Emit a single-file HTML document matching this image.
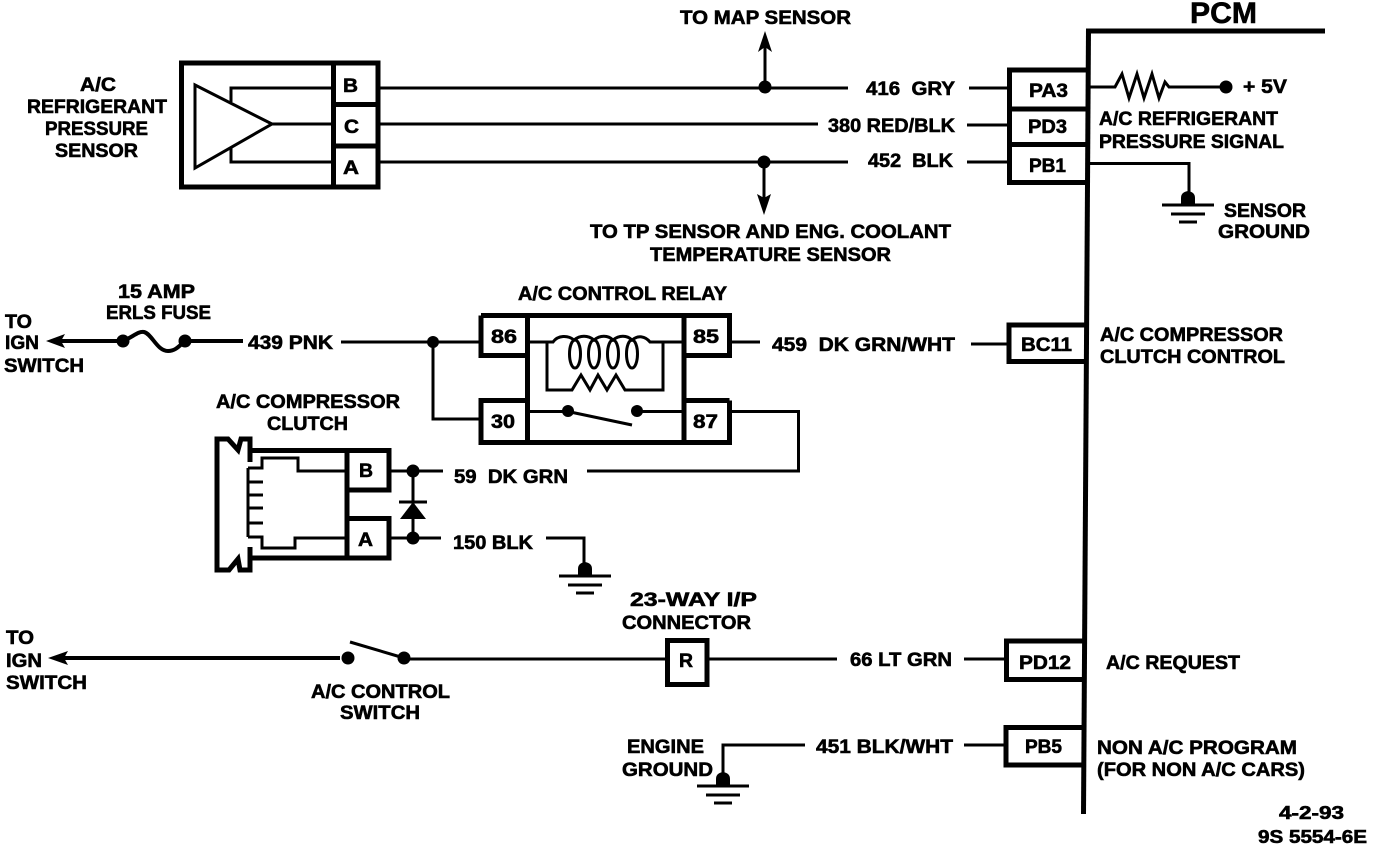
<!DOCTYPE html>
<html><head><meta charset="utf-8"><style>
html,body{margin:0;padding:0;background:#fff;width:1392px;height:846px;overflow:hidden}
svg{display:block}
text{font-family:"Liberation Sans",sans-serif;font-weight:bold;font-size:19.5px;fill:#000;stroke:#000;stroke-width:.6;white-space:pre}
.l{fill:none;stroke:#000;stroke-width:3}
.m{fill:none;stroke:#000;stroke-width:4}
.b{fill:none;stroke:#000;stroke-width:5}
</style></head><body>
<svg width="1392" height="846" viewBox="0 0 1392 846" xmlns="http://www.w3.org/2000/svg">
<defs><g id="gnd"><path d="M-26 0H26" stroke="#000" stroke-width="3"/><path d="M-17 9H17" stroke="#000" stroke-width="3"/><path d="M-9 17H9" stroke="#000" stroke-width="3"/><path d="M-7 0V-7Q-7 -13 0 -14Q7 -13 7 -7V0Z" fill="#000"/></g></defs>

<!-- PCM -->
<path class="b" d="M1325 31H1086"/><path class="b" d="M1088.500 28.500L1083.500 814"/>
<path class="b" d="M1088 70H1009.500V182.500H1087"/><path class="b" d="M1009 109H1087M1009 144.500H1087"/>
<path class="b" d="M1086 325H1009V361.500H1086"/>
<path class="b" d="M1084 641H1006.500V679.500H1084"/>
<path class="b" d="M1084 727.500H1006V765H1084"/>

<!-- Sensor -->
<rect class="b" x="181.500" y="63" width="196.500" height="124"/>
<path class="b" d="M333.500 63V187M333.500 104.500H378M333.500 146H378"/>
<path class="l" d="M195 85V168L272 124Z"/>
<path class="l" d="M231 102V88H333M272 124H333M231 148V162H333"/>
<!-- Top wires -->
<path class="l" d="M377 88H848M377 124H818M377 162H848"/>
<path class="l" d="M765 88V38M764 162V202"/>
<circle cx="765" cy="87" r="6.500"/><circle cx="764" cy="162" r="6.500"/>
<path d="M765 31L772 52L765 47L758 52Z"/><path d="M764 215L757 194L764 198L771 194Z"/>
<path class="l" d="M969 88H1011M967 125H1011M967 162H1011"/>
<!-- Resistor PA3 -->
<path class="l" d="M1089 87H1115L1122 74L1129 98L1137 74L1144 98L1152 74L1159 98L1165 82L1169 87H1222"/>
<circle cx="1226" cy="87" r="6.500"/>
<path class="l" d="M1089 163.500H1189V192"/>
<use href="#gnd" x="1188" y="205"/>

<!-- Fuse line -->
<path class="m" d="M60 341H122M186 341H243"/>
<path d="M46 341L65 334L61 341L65 348Z"/>
<circle cx="123" cy="341" r="6.500"/><circle cx="185" cy="341" r="6.500"/>
<path class="m" d="M123 341C133 337 138 331 144 332C152 334 157 351 168 351C176 351 180 345 185 341"/>
<path class="l" d="M341 342H482M433 342V419H482"/>
<circle cx="433" cy="342" r="6"/>

<!-- Relay -->
<path class="b" d="M481 315.500H729.500V355.500H684M729.500 400.500V442.500H481V400.500H527M481 315.500V355.500H527M684 400.500H729.500"/>
<path class="b" d="M527.500 316V442M684 316V442"/>
<path class="l" d="M527 342H553C558 335 568 335 574 340C580 335 588 335 594 340C600 335 608 335 613 340C619 335 627 335 632 340C638 335 645 336 650 342H684"/>
<path class="l" d="M547 342V390H572L581 375L590 390L598 375L607 390L616 375L625 390L635 390H663V342"/>
<ellipse class="l" cx="575" cy="354" rx="5.500" ry="14"/><ellipse class="l" cx="594" cy="354" rx="5.500" ry="14"/><ellipse class="l" cx="613" cy="354" rx="5.500" ry="14"/><ellipse class="l" cx="632" cy="354" rx="5.500" ry="14"/>
<path class="l" d="M527 411.500H568M638 411.500H684"/>
<path class="l" d="M568 411.500L632 425"/>
<circle cx="568" cy="411" r="6"/><circle cx="637" cy="411" r="6"/>
<path class="l" d="M729 342H760M729 411.500H798.500V471H587"/>
<path class="l" d="M971 344H1011"/>

<!-- Clutch -->
<path class="b" d="M250 462V439H241L238 450L228 439H217V570H229L238 559L240 570H250V547"/>
<path class="b" d="M250 450.500H389V490H347M250 558H389V518.500H347M347 450V560"/>
<path class="l" d="M248 468H262V458H298V471H347M248 537H262V548H295V538H347"/>
<path class="l" d="M248 468V537M248 482H263M248 495H263M248 508H263M248 523H263"/>
<!-- Clutch wires -->
<path class="l" d="M389 471H443M389 538H441M413 471V538"/>
<circle cx="413" cy="471" r="6.500"/><circle cx="413" cy="538" r="6.500"/>
<path d="M413 502L426 519H400Z"/><path class="l" d="M399 502H427"/>
<path class="l" d="M546 538H584V566"/>
<use href="#gnd" x="585" y="576"/>

<!-- Bottom -->
<path class="m" d="M62 658H340"/><path d="M48 658L68 651L64 658L68 665Z"/>
<circle cx="348" cy="658" r="6.500"/><circle cx="404" cy="658" r="6.500"/>
<path class="l" d="M350 642L404 658"/>
<path class="l" d="M404 659H667"/>
<rect class="b" x="667.500" y="640.500" width="39.500" height="44"/>
<path class="l" d="M708 659H837M964 659H1006M964 745H1006M805 745H723V775"/>
<use href="#gnd" x="723" y="786"/>

<!-- Labels -->
<text lengthAdjust="spacingAndGlyphs" x="680" y="24" textLength="171">TO MAP SENSOR</text>
<text lengthAdjust="spacingAndGlyphs" x="1190" y="23" textLength="67" style="font-size:30px">PCM</text>
<text lengthAdjust="spacingAndGlyphs" x="80" y="91" textLength="36">A/C</text>
<text lengthAdjust="spacingAndGlyphs" x="27" y="113" textLength="140">REFRIGERANT</text>
<text lengthAdjust="spacingAndGlyphs" x="45" y="135" textLength="103">PRESSURE</text>
<text lengthAdjust="spacingAndGlyphs" x="55" y="157" textLength="83">SENSOR</text>
<text lengthAdjust="spacingAndGlyphs" x="343" y="92" textLength="15">B</text>
<text lengthAdjust="spacingAndGlyphs" x="344" y="133" textLength="15">C</text>
<text lengthAdjust="spacingAndGlyphs" x="343" y="174" textLength="16">A</text>
<text lengthAdjust="spacingAndGlyphs" x="866" y="95" textLength="89">416  GRY</text>
<text lengthAdjust="spacingAndGlyphs" x="828" y="132" textLength="127">380 RED/BLK</text>
<text lengthAdjust="spacingAndGlyphs" x="868" y="167" textLength="85">452  BLK</text>
<text lengthAdjust="spacingAndGlyphs" x="1029" y="97" textLength="39">PA3</text>
<text lengthAdjust="spacingAndGlyphs" x="1028" y="133" textLength="39">PD3</text>
<text lengthAdjust="spacingAndGlyphs" x="1029" y="172" textLength="37">PB1</text>
<text lengthAdjust="spacingAndGlyphs" x="1243" y="93" textLength="44">+ 5V</text>
<text lengthAdjust="spacingAndGlyphs" x="1099" y="125" textLength="179">A/C REFRIGERANT</text>
<text lengthAdjust="spacingAndGlyphs" x="1099" y="148" textLength="185">PRESSURE SIGNAL</text>
<text lengthAdjust="spacingAndGlyphs" x="1224" y="217" textLength="82">SENSOR</text>
<text lengthAdjust="spacingAndGlyphs" x="1218" y="238" textLength="92">GROUND</text>
<text lengthAdjust="spacingAndGlyphs" x="590" y="238" textLength="361">TO TP SENSOR AND ENG. COOLANT</text>
<text lengthAdjust="spacingAndGlyphs" x="650" y="261" textLength="241">TEMPERATURE SENSOR</text>
<text lengthAdjust="spacingAndGlyphs" x="118" y="298" textLength="77">15 AMP</text>
<text lengthAdjust="spacingAndGlyphs" x="106" y="319" textLength="105">ERLS FUSE</text>
<text lengthAdjust="spacingAndGlyphs" x="518" y="300" textLength="209">A/C CONTROL RELAY</text>
<text lengthAdjust="spacingAndGlyphs" x="5" y="328" textLength="27">TO</text>
<text lengthAdjust="spacingAndGlyphs" x="5" y="349" textLength="34">IGN</text>
<text lengthAdjust="spacingAndGlyphs" x="4" y="372" textLength="80">SWITCH</text>
<text lengthAdjust="spacingAndGlyphs" x="248" y="349" textLength="85">439 PNK</text>
<text lengthAdjust="spacingAndGlyphs" x="491" y="343" textLength="26">86</text>
<text lengthAdjust="spacingAndGlyphs" x="693" y="343" textLength="26">85</text>
<text lengthAdjust="spacingAndGlyphs" x="491" y="428" textLength="24">30</text>
<text lengthAdjust="spacingAndGlyphs" x="693" y="428" textLength="25">87</text>
<text lengthAdjust="spacingAndGlyphs" x="772" y="351" textLength="183">459  DK GRN/WHT</text>
<text lengthAdjust="spacingAndGlyphs" x="1021" y="351" textLength="51">BC11</text>
<text lengthAdjust="spacingAndGlyphs" x="1100" y="341" textLength="183">A/C COMPRESSOR</text>
<text lengthAdjust="spacingAndGlyphs" x="1100" y="363" textLength="185">CLUTCH CONTROL</text>
<text lengthAdjust="spacingAndGlyphs" x="216" y="408" textLength="184">A/C COMPRESSOR</text>
<text lengthAdjust="spacingAndGlyphs" x="267" y="430" textLength="81">CLUTCH</text>
<text lengthAdjust="spacingAndGlyphs" x="359" y="477" textLength="14">B</text>
<text lengthAdjust="spacingAndGlyphs" x="358" y="546" textLength="15">A</text>
<text lengthAdjust="spacingAndGlyphs" x="454" y="483" textLength="114">59  DK GRN</text>
<text lengthAdjust="spacingAndGlyphs" x="453" y="549" textLength="80">150 BLK</text>
<text lengthAdjust="spacingAndGlyphs" x="630" y="606" textLength="127">23-WAY I/P</text>
<text lengthAdjust="spacingAndGlyphs" x="622" y="629" textLength="129">CONNECTOR</text>
<text lengthAdjust="spacingAndGlyphs" x="679" y="667" textLength="14">R</text>
<text lengthAdjust="spacingAndGlyphs" x="850" y="666" textLength="102">66 LT GRN</text>
<text lengthAdjust="spacingAndGlyphs" x="1019" y="669" textLength="52">PD12</text>
<text lengthAdjust="spacingAndGlyphs" x="1106" y="669" textLength="134">A/C REQUEST</text>
<text lengthAdjust="spacingAndGlyphs" x="6" y="644" textLength="28">TO</text>
<text lengthAdjust="spacingAndGlyphs" x="6" y="667" textLength="36">IGN</text>
<text lengthAdjust="spacingAndGlyphs" x="6" y="689" textLength="81">SWITCH</text>
<text lengthAdjust="spacingAndGlyphs" x="311" y="698" textLength="139">A/C CONTROL</text>
<text lengthAdjust="spacingAndGlyphs" x="340" y="719" textLength="80">SWITCH</text>
<text lengthAdjust="spacingAndGlyphs" x="627" y="753" textLength="77">ENGINE</text>
<text lengthAdjust="spacingAndGlyphs" x="622" y="776" textLength="91">GROUND</text>
<text lengthAdjust="spacingAndGlyphs" x="816" y="753" textLength="137">451 BLK/WHT</text>
<text lengthAdjust="spacingAndGlyphs" x="1025" y="753" textLength="37">PB5</text>
<text lengthAdjust="spacingAndGlyphs" x="1097" y="754" textLength="200">NON A/C PROGRAM</text>
<text lengthAdjust="spacingAndGlyphs" x="1097" y="776" textLength="208">(FOR NON A/C CARS)</text>
<text lengthAdjust="spacingAndGlyphs" x="1279" y="819" textLength="65" style="font-size:18px">4-2-93</text>
<text lengthAdjust="spacingAndGlyphs" x="1258" y="843" textLength="109" style="font-size:18px">9S 5554-6E</text>
</svg>
</body></html>
